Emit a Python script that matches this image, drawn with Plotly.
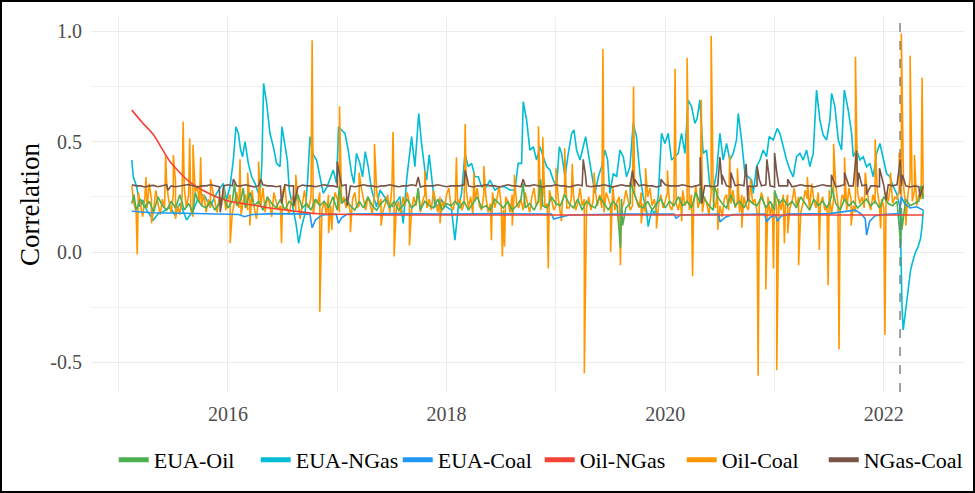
import plotly.graph_objects as go

# ---------------- data (decimal years, correlation values) -------------
OIL_COAL_START, OIL_COAL_STEP = 2015.12, 0.02
GRID_START, GRID_STEP = 2015.12, 0.04

# Oil-Coal: noisy band values on a regular date grid (one row ~ one year)
OIL_COAL_BASE = (
    [.30, .22, .18, .27, .21, .16, .25, .20, .31, .24, .19, .28, .22, .17, .24, .20, .30, .23, .18, .26,
     .32, .21, .17, .25, .29, .20, .26, .19, .16, .27, .30, .22, .21, .26, .18, .24, .20, .27, .23, .18,
     .25, .21, .29, .19, .24, .26, .18, .22, .27, .20]
    + [.17, .23, .26, .19, .22, .28, .20, .15, .24, .21, .29, .18, .25, .22, .16, .27, .23, .19, .21, .27,
       .30, .20, .17, .23, .26, .19, .24, .15, .22, .28, .21, .20, .25, .17, .24, .22, .27, .19, .23, .17,
       .26, .21, .19, .27, .24, .18, .22, .25, .20, .23]
    + [.18, .24, .27, .20, .21, .29, .23, .19, .25, .22, .17, .26, .28, .21, .24, .19, .22, .26, .18, .30,
       .24, .20, .23, .17, .25, .21, .27, .22, .19, .25, .21, .28, .18, .23, .26, .20, .24, .19, .28, .22,
       .18, .25, .23, .20, .26, .29, .21, .19, .24, .22]
    + [.24, .19, .22, .28, .20, .25, .17, .23, .29, .21, .19, .26, .25, .18, .22, .27, .20, .24, .30, .21,
       .19, .25, .23, .18, .26, .28, .22, .20, .24, .19, .27, .22, .18, .25, .29, .21, .23, .19, .26, .20,
       .22, .28, .24, .19, .21, .25, .17, .23, .27, .20]
    + [.20, .24, .26, .19, .22, .29, .21, .24, .20, .25, .19, .23, .28, .21, .26, .20, .18, .27, .24, .21,
       .30, .19, .23, .25, .20, .22, .28, .24, .19, .21, .26, .23, .20, .27, .22, .18, .25, .29, .21, .24,
       .18, .22, .26, .20, .23, .27, .21, .19, .24, .22]
    + [.19, .25, .28, .21, .23, .19, .26, .22, .30, .20, .24, .18, .25, .22, .17, .27, .23, .20, .29, .21,
       .16, .24, .26, .19, .22, .28, .20, .23, .18, .26, .25, .21, .19, .30, .22, .24, .18, .21, .27, .23,
       .20, .25, .17, .22, .27, .20, .24, .19, .26, .21]
    + [.26, .20, .23, .29, .21, .25, .18, .22, .28, .24, .19, .31, .23, .20, .27, .22, .25, .19, .21, .28,
       .17, .24, .30, .22, .20, .26, .23, .19, .29, .24, .21, .18, .27, .22, .25, .20, .31, .23, .19, .26,
       .22, .28, .21, .24, .20, .27, .23, .30, .22, .25]
    + [.24, .28, .22, .30, .20, .26, .33, .23, .28, .21, .26, .24, .25]
)
OIL_COAL_SPIKES = [
    (2015.17, -.01), (2015.25, .34), (2015.30, .13), (2015.43, .44), (2015.50, .44), (2015.52, .15),
    (2015.59, .59), (2015.65, .515), (2015.68, .485), (2015.75, .43), (2015.84, .33), (2016.02, .04),
    (2016.11, .42), (2016.18, .36), (2016.20, .12), (2016.28, .41), (2016.49, .04), (2016.62, .35),
    (2016.77, .96), (2016.84, -.27), (2016.92, .085), (2016.95, .10), (2017.02, .66), (2017.12, .09),
    (2017.20, .36), (2017.34, .49), (2017.40, .12), (2017.51, .545), (2017.52, -.02), (2017.66, .03),
    (2017.80, .37), (2017.94, .13), (2018.09, .43), (2018.17, .58), (2018.25, .36), (2018.34, .39),
    (2018.41, .054), (2018.51, -.02), (2018.53, .025), (2018.60, .12), (2018.62, .35), (2018.84, .57),
    (2018.88, .52), (2018.93, -.074), (2019.00, .38), (2019.05, .14), (2019.08, .47), (2019.15, .40),
    (2019.26, -.55), (2019.35, .36), (2019.43, .92), (2019.50, 0.0), (2019.59, -.06), (2019.71, .75),
    (2019.78, .13), (2019.82, .38), (2019.92, .107), (2020.02, .37), (2020.09, .83), (2020.15, .14),
    (2020.20, .88), (2020.25, -.11), (2020.33, .69), (2020.42, .98), (2020.48, .10), (2020.59, .44),
    (2020.66, .38), (2020.70, .11), (2020.78, .33), (2020.85, -.56), (2020.92, -.17), (2020.99, -.074),
    (2021.02, -.535), (2021.09, .04), (2021.12, .085), (2021.22, -.06), (2021.30, .34), (2021.41, .01),
    (2021.49, -.15), (2021.54, .49), (2021.59, -.44), (2021.64, .43), (2021.70, .12), (2021.74, .885),
    (2021.83, .36), (2021.92, .51), (2021.97, .107), (2022.01, -.376), (2022.06, .36), (2022.14, .45),
    (2022.16, .99), (2022.20, .12), (2022.24, .89), (2022.28, .44), (2022.35, .79),
]

# EUA-Oil
EUA_OIL_BASE = (
    [.22, .19, .24, .20, .23, .18, .25, .21, .19, .23, .20, .26, .19, .22, .18, .24, .21, .20, .23, .19, .22, .25, .20, .23, .21]
    + [.24, .20, .27, .21, .23, .19, .25, .22, .20, .24, .19, .23, .21, .26, .20, .22, .19, .24, .21, .23, .20, .25, .19, .22, .24]
    + [.21, .19, .23, .20, .25, .21, .19, .22, .24, .20, .23, .19, .21, .24, .20, .22, .19, .23, .21, .20, .24, .19, .22, .21, .23]
    + [.20, .23, .19, .22, .25, .20, .21, .19, .24, .22, .20, .23, .19, .21, .24, .20, .22, .19, .23, .21, .20, .25, .22, .21, .26]
    + [.22, .20, .24, .19, .23, .21, .20, .25, .22, .19, .23, .21, .24, .20, .22, .26, .21, .20, .23, .19, .22, .24, .20, .23, .21]
    + [.25, .21, .23, .20, .27, .22, .24, .21, .19, .25, .22, .20, .26, .21, .23, .20, .24, .22, .21, .25, .20, .23, .19, .22, .24]
    + [.21, .23, .20, .25, .22, .19, .24, .21, .23, .20, .25, .22, .19, .24, .21, .23, .20, .22, .24, .21, .23, .20, .25, .22, .21]
    + [.23, .20, .24, .21, .22, .23, .24]
)
EUA_OIL_SPIKES = [
    (2015.14, .26), (2015.70, .27), (2016.06, .31), (2016.14, .29), (2017.02, .30), (2017.74, .29),
    (2018.70, .31), (2018.86, .33), (2019.59, .02), (2019.61, .12), (2019.68, .32), (2020.32, .29),
    (2020.45, .30), (2021.00, .28), (2021.52, .30), (2022.155, .03), (2022.165, .10), (2022.34, .30),
]

# NGas-Coal
NGAS_COAL_BASE = (
    [.305, .30, .30, .295, .30, .302, .296, .30, .305, .30, .296, .30, .302, .306, .30, .295, .30, .30, .305, .30, .296, .30, .305, .30, .30]
    + [.30, .305, .30, .295, .30, .305, .30, .30, .296, .30, .305, .30, .30, .295, .304, .30, .30, .296, .30, .305, .30, .30, .295, .30, .305]
    + [.30, .296, .30, .305, .30, .30, .295, .30, .30, .305, .30, .296, .30, .30, .305, .30, .295, .30, .30, .30, .305, .30, .296, .30, .30]
    + [.30, .305, .30, .295, .30, .30, .305, .30, .30, .295, .30, .305, .30, .30, .296, .30, .30, .305, .30, .295, .30, .30, .305, .30, .30]
    + [.295, .30, .305, .30, .30, .296, .30, .30, .305, .30, .295, .30, .305, .30, .30, .296, .30, .305, .30, .30, .295, .30, .305, .30, .30]
    + [.30, .305, .30, .295, .30, .305, .30, .30, .296, .30, .305, .30, .295, .30, .305, .30, .30, .296, .30, .30, .305, .30, .295, .30, .30]
    + [.30, .296, .30, .305, .30, .30, .295, .30, .305, .30, .30, .296, .30, .305, .30, .30, .295, .30, .305, .30, .30, .296, .30, .305, .30]
    + [.305, .30, .30, .295, .30, .296, .30]
)
NGAS_COAL_SPIKES = [
    (2015.45, .28), (2015.93, .18), (2015.95, .26), (2016.05, .33), (2016.30, .33), (2016.49, .22),
    (2016.60, .21), (2017.00, .41), (2017.02, .35), (2017.09, .21), (2017.74, .34), (2018.17, .37),
    (2018.19, .33), (2018.70, .33), (2019.25, .42), (2019.27, .35), (2019.70, .37), (2019.72, .33),
    (2019.96, .33), (2020.32, .43), (2020.335, .22), (2020.50, .43), (2020.52, .35), (2020.60, .36),
    (2020.74, .40), (2020.755, .23), (2020.84, .39), (2020.86, .33), (2020.93, .42), (2020.95, .34),
    (2021.00, .45), (2021.02, .36), (2021.12, .33), (2021.52, .35), (2021.64, .36), (2021.75, .46),
    (2021.77, .36), (2021.84, .26), (2021.96, .38), (2022.02, .235), (2022.15, .42), (2022.17, .35),
    (2022.33, .25),
]

# EUA-NGas
EUA_NGAS = [
    (2015.12, .417), (2015.134, .341), (2015.165, .296), (2015.195, .205), (2015.225, .236), (2015.256, .190),
    (2015.286, .168), (2015.317, .145), (2015.363, .175), (2015.408, .183), (2015.469, .205), (2015.515, .168),
    (2015.561, .221), (2015.622, .145), (2015.683, .190), (2015.744, .266), (2015.79, .251), (2015.835, .205),
    (2015.896, .266), (2015.957, .311), (2015.988, .236), (2016.018, .296), (2016.049, .417), (2016.073, .568),
    (2016.095, .538), (2016.116, .462), (2016.134, .432), (2016.156, .500), (2016.186, .402), (2016.217, .341),
    (2016.247, .311), (2016.278, .266), (2016.299, .296), (2016.311, .417), (2016.326, .764), (2016.354, .674),
    (2016.384, .538), (2016.415, .477), (2016.445, .402), (2016.476, .387), (2016.494, .568), (2016.522, .492),
    (2016.543, .417), (2016.561, .281), (2016.592, .205), (2016.622, .130), (2016.647, .039), (2016.674, .115),
    (2016.705, .175), (2016.729, .326), (2016.750, .523), (2016.781, .440), (2016.811, .417), (2016.842, .341),
    (2016.872, .266), (2016.91, .30), (2016.963, .372), (2016.993, .311), (2017.012, .568), (2017.039, .553),
    (2017.070, .538), (2017.100, .462), (2017.131, .356), (2017.152, .311), (2017.176, .447), (2017.207, .402),
    (2017.231, .341), (2017.256, .455), (2017.283, .387), (2017.314, .281), (2017.359, .205), (2017.390, .281),
    (2017.451, .236), (2017.512, .205), (2017.573, .251), (2017.603, .130), (2017.634, .326), (2017.680, .523),
    (2017.710, .387), (2017.745, .628), (2017.771, .492), (2017.801, .372), (2017.817, .326), (2017.841, .440),
    (2017.863, .326), (2017.893, .205), (2017.924, .213), (2017.954, .236), (2018.000, .205), (2018.046, .190),
    (2018.076, .054), (2018.107, .205), (2018.137, .266), (2018.168, .447), (2018.198, .387), (2018.229, .402),
    (2018.259, .341), (2018.290, .341), (2018.320, .296), (2018.366, .296), (2018.396, .326), (2018.442, .281),
    (2018.488, .296), (2018.533, .296), (2018.579, .281), (2018.625, .281), (2018.655, .402), (2018.686, .402),
    (2018.701, .681), (2018.732, .598), (2018.762, .462), (2018.793, .477), (2018.823, .417), (2018.854, .477),
    (2018.884, .432), (2018.915, .387), (2018.945, .372), (2018.976, .326), (2019.006, .296), (2019.031, .477),
    (2019.052, .447), (2019.083, .341), (2019.113, .447), (2019.144, .538), (2019.165, .553), (2019.189, .462),
    (2019.220, .417), (2019.250, .477), (2019.272, .523), (2019.296, .447), (2019.327, .356), (2019.357, .266),
    (2019.388, .341), (2019.418, .387), (2019.449, .462), (2019.473, .417), (2019.494, .266), (2019.525, .356),
    (2019.555, .341), (2019.586, .462), (2019.616, .432), (2019.646, .341), (2019.677, .387), (2019.707, .583),
    (2019.737, .523), (2019.768, .356), (2019.798, .251), (2019.829, .190), (2019.844, .115), (2019.875, .190),
    (2019.905, .175), (2019.936, .251), (2019.966, .538), (2019.997, .492), (2020.027, .538), (2020.058, .417),
    (2020.088, .432), (2020.119, .447), (2020.149, .538), (2020.180, .447), (2020.210, .689), (2020.241, .659),
    (2020.271, .583), (2020.292, .606), (2020.317, .689), (2020.347, .447), (2020.378, .462), (2020.408, .296),
    (2020.439, .281), (2020.469, .356), (2020.500, .538), (2020.530, .417), (2020.561, .492), (2020.591, .417),
    (2020.622, .447), (2020.652, .508), (2020.668, .628), (2020.698, .508), (2020.729, .356), (2020.759, .341),
    (2020.790, .326), (2020.805, .266), (2020.835, .387), (2020.866, .417), (2020.896, .462), (2020.927, .432),
    (2020.951, .523), (2020.988, .508), (2021.024, .560), (2021.049, .538), (2021.079, .477), (2021.110, .417),
    (2021.140, .372), (2021.171, .341), (2021.201, .432), (2021.232, .447), (2021.262, .417), (2021.293, .462),
    (2021.323, .387), (2021.354, .447), (2021.384, .734), (2021.415, .598), (2021.445, .530), (2021.476, .508),
    (2021.506, .598), (2021.522, .719), (2021.552, .659), (2021.583, .508), (2021.613, .462), (2021.638, .734),
    (2021.674, .644), (2021.705, .538), (2021.720, .432), (2021.750, .462), (2021.781, .417), (2021.811, .432),
    (2021.842, .387), (2021.872, .402), (2021.903, .341), (2021.933, .447), (2021.964, .492), (2021.994, .417),
    (2022.025, .356), (2022.055, .341), (2022.086, .296), (2022.116, .266), (2022.147, .205), (2022.156, .009),
    (2022.166, -.25), (2022.177, -.353), (2022.19, -.30), (2022.205, -.23), (2022.225, -.14), (2022.245, -.08),
    (2022.265, -.04), (2022.29, 0.0), (2022.31, .02), (2022.335, .06), (2022.35, .12), (2022.36, .19),
]

# EUA-Coal
EUA_COAL = [
    (2015.12, .185), (2015.3, .178), (2015.6, .176), (2015.95, .174), (2016.1, .17), (2016.15, .16),
    (2016.22, .17), (2016.4, .174), (2016.75, .172), (2016.77, .11), (2016.80, .145), (2016.86, .168),
    (2016.99, .172), (2017.01, .13), (2017.04, .155), (2017.09, .172), (2017.5, .174), (2018.0, .172),
    (2018.5, .174), (2018.96, .172), (2018.98, .15), (2019.04, .158), (2019.12, .168), (2019.6, .172),
    (2020.08, .172), (2020.1, .153), (2020.14, .168), (2020.49, .172), (2020.5, .137), (2020.55, .158),
    (2020.62, .17), (2020.91, .172), (2020.927, .137), (2020.96, .158), (2021.01, .168), (2021.024, .14),
    (2021.06, .162), (2021.12, .172), (2021.5, .174), (2021.74, .19), (2021.8, .17), (2021.83, .15),
    (2021.842, .077), (2021.87, .14), (2021.92, .165), (2022.0, .17), (2022.145, .175), (2022.16, .25),
    (2022.19, .22), (2022.24, .2), (2022.3, .205), (2022.36, .19),
]

# Oil-NGas
OIL_NGAS = [
    (2015.12, .643), (2015.22, .585), (2015.32, .53), (2015.40, .465), (2015.47, .41), (2015.55, .365),
    (2015.62, .33), (2015.70, .30), (2015.77, .28), (2015.87, .255), (2015.97, .236), (2016.10, .222),
    (2016.23, .213), (2016.38, .20), (2016.54, .19), (2016.67, .182), (2016.80, .175), (2017.0, .171),
    (2017.3, .169), (2017.6, .168), (2018.0, .168), (2022.36, .168),
]

SERIES_NAMES = ["EUA-Oil", "EUA-NGas", "EUA-Coal", "Oil-NGas", "Oil-Coal", "NGas-Coal"]
COLORS = {
    "EUA-Oil": "#4CAF50", "EUA-NGas": "#00BCD4", "EUA-Coal": "#2196F3",
    "Oil-NGas": "#F44336", "Oil-Coal": "#FF9800", "NGas-Coal": "#795548",
}
EVENT_DATE = 2022.148
X_TICKS = [2016, 2018, 2020, 2022]
X_TICK_TEXT = ["2016", "2018", "2020", "2022"]
Y_TICKS = [-0.5, 0.0, 0.5, 1.0]
Y_TICK_TEXT = ["-0.5", "0.0", "0.5", "1.0"]


def grid_series(base, spikes, start, step):
    pts = [(round(start + step * i, 4), v) for i, v in enumerate(base)] + list(spikes)
    pts.sort(key=lambda p: p[0])
    return [p[0] for p in pts], [p[1] for p in pts]


def pairs(data):
    return [p[0] for p in data], [p[1] for p in data]


series = {
    "EUA-Oil": grid_series(EUA_OIL_BASE, EUA_OIL_SPIKES, GRID_START, GRID_STEP),
    "EUA-NGas": pairs(EUA_NGAS),
    "EUA-Coal": pairs(EUA_COAL),
    "Oil-NGas": pairs(OIL_NGAS),
    "Oil-Coal": grid_series(OIL_COAL_BASE, OIL_COAL_SPIKES, OIL_COAL_START, OIL_COAL_STEP),
    "NGas-Coal": grid_series(NGAS_COAL_BASE, NGAS_COAL_SPIKES, GRID_START, GRID_STEP),
}

DRAW_ORDER = ["EUA-NGas", "Oil-Coal", "EUA-Oil", "EUA-Coal", "Oil-NGas", "NGas-Coal"]

FONT = "Liberation Serif, Times New Roman, serif"

fig = go.Figure()
for name in DRAW_ORDER:
    xs, ys = series[name]
    fig.add_trace(go.Scatter(
        x=xs, y=ys, mode="lines", name=name, showlegend=False,
        line=dict(color=COLORS[name], width=1.6,
                  shape="spline" if name == "Oil-NGas" else "linear"),
        hoverinfo="skip",
    ))
# legend keys (thick), in legend order
for name in SERIES_NAMES:
    fig.add_trace(go.Scatter(
        x=[None], y=[None], mode="lines", name=name, showlegend=True,
        line=dict(color=COLORS[name], width=5),
    ))

L, R, T, B = 91, 11, 17, 101
W, H = 975, 493
PW, PH = W - L - R, H - T - B

fig.add_shape(type="line", xref="x", yref="paper", x0=EVENT_DATE, x1=EVENT_DATE, y0=0, y1=1,
              line=dict(color="#7A7A7A", width=1.4, dash="dash"), layer="above")
# outer frame around the whole image
fig.add_shape(type="rect", xref="paper", yref="paper",
              x0=(1 - L) / PW, x1=(W - 1 - L) / PW,
              y0=(PH + T - (H - 1)) / PH, y1=(PH + T - 1) / PH,
              line=dict(color="black", width=2), layer="above")

fig.update_layout(
    width=W, height=H,
    margin=dict(l=L, r=R, t=T, b=B, autoexpand=False),
    paper_bgcolor="white", plot_bgcolor="white",
    font=dict(family=FONT, color="black"),
    legend=dict(orientation="h", x=0.514, xanchor="center", y=-0.181, yanchor="middle",
                font=dict(size=22, family=FONT, color="black"), itemwidth=30,
                entrywidth=97, entrywidthmode="pixels",
                bgcolor="rgba(0,0,0,0)"),
    xaxis=dict(range=[2014.747, 2022.733], tickmode="array", tickvals=X_TICKS, ticktext=X_TICK_TEXT,
               showgrid=True, gridcolor="#EBEBEB", gridwidth=1.1, zeroline=False, showline=False,
               ticks="", ticklabelstandoff=8, automargin=False,
               tickfont=dict(size=20, family=FONT, color="#4D4D4D"),
               minor=dict(tickmode="linear", tick0=2015, dtick=1, showgrid=True,
                          gridcolor="#EFEFEF", gridwidth=0.6)),
    yaxis=dict(range=[-0.634, 1.065], tickmode="array", tickvals=Y_TICKS, ticktext=Y_TICK_TEXT,
               showgrid=True, gridcolor="#EBEBEB", gridwidth=1.1, zeroline=False, showline=False,
               ticks="", ticklabelstandoff=8, automargin=False,
               tickfont=dict(size=20, family=FONT, color="#4D4D4D"),
               title=dict(text="Correlation", font=dict(size=27, family=FONT, color="black"), standoff=2),
               minor=dict(tickmode="linear", tick0=0, dtick=0.25, showgrid=True,
                          gridcolor="#EFEFEF", gridwidth=0.6)),
)

fig.write_html("out.html", config={"displayModeBar": False},
               post_script="document.body.style.margin='0px';")
